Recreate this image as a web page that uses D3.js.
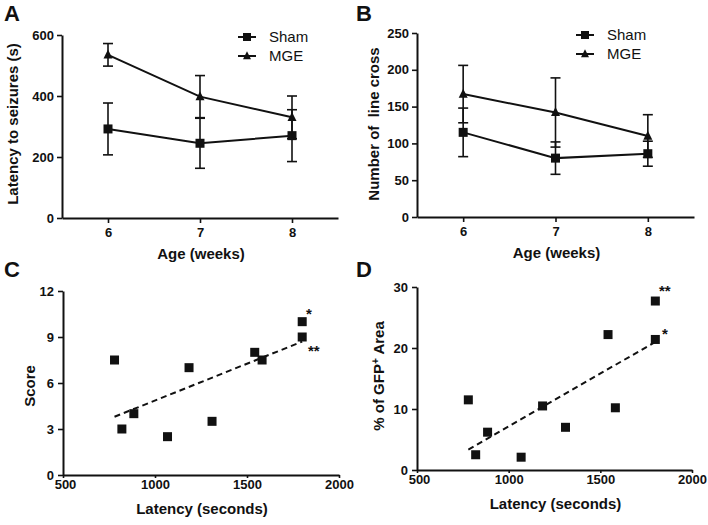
<!DOCTYPE html>
<html><head><meta charset="utf-8">
<script src="https://cdn.jsdelivr.net/npm/d3@7"></script>
<style>body{margin:0;background:#fff}svg{display:block}text{font-family:"Liberation Sans",Arial,sans-serif;fill:#111;white-space:pre}</style>
</head><body>
<svg id="c" width="708" height="525"></svg>
<script>
// ---- data ----
const ages = [6, 7, 8];
const shamLatency = [292, 245, 270];
const shamLatencyErr = [85, 82, 85];
const mgeLatency = [535, 398, 330];
const mgeLatencyErr = [37, 69, 70];
const shamCross = [115, 80, 86];
const shamCrossErr = [33, 22, 17];
const mgeCross = [167, 142, 110];
const mgeCrossErr = [39, 47, 29];
const latencySec = [780, 820, 885, 1068, 1185, 1310, 1542, 1582, 1800, 1800];
const scores = [7.5, 3, 4, 2.5, 7, 3.5, 8, 7.5, 10, 9];
const gfpArea = [11.5, 2.5, 6.2, 2.1, 10.5, 7.0, 22.2, 10.2, 27.7, 21.4];
const scoreFit = [[780, 3.8], [1800, 8.7]];
const gfpFit = [[780, 3.35], [1800, 21.0]];
const latencyTicks = [0, 200, 400, 600];
const crossTicks = [0, 50, 100, 150, 200, 250];
const scoreTicks = [0, 3, 6, 9, 12];
const gfpTicks = [0, 10, 20, 30];
const secTicks = [500, 1000, 1500, 2000];

const svg = d3.select("#c");

function axes(g, x, y, xt, yt, xTick, xPad, yPad, firstDx) {
  const ya = g.append("g").attr("transform", `translate(${x.range()[0]},0)`)
    .call(d3.axisLeft(y).tickValues(yt).tickSize(5).tickPadding(yPad).tickSizeOuter(0));
  const xa = g.append("g").attr("transform", `translate(0,${y.range()[0]})`)
    .call(d3.axisBottom(x).tickValues(xt).tickSize(xTick).tickPadding(xPad).tickSizeOuter(0).tickFormat(d3.format("d")));
  [ya, xa].forEach(a => {
    a.select(".domain").attr("stroke", "#111").attr("stroke-width", 2);
    a.selectAll(".tick line").attr("stroke", "#111").attr("stroke-width", 1.6);
    a.selectAll(".tick text").attr("font-size", 13).attr("font-weight", "bold").attr("fill", "#111")
      .style("font-family", '"Liberation Sans",Arial,sans-serif');
  });
  if (firstDx) xa.select(".tick text").attr("dx", firstDx);
}

function sq(g, cx, cy, s) {
  g.append("rect").attr("x", cx - s / 2).attr("y", cy - s / 2).attr("width", s).attr("height", s).attr("fill", "#111");
}
function tri(g, cx, cy, s) {
  g.append("path").attr("d", `M${cx},${cy - s * 0.6}L${cx + s / 2},${cy + s * 0.4}L${cx - s / 2},${cy + s * 0.4}Z`).attr("fill", "#111");
}

function linePanel(o) {
  const g = svg.append("g");
  const x = d3.scaleLinear().domain([5.5, 8.5]).range([o.l, o.r]);
  const y = d3.scaleLinear().domain([0, o.ymax]).range([o.b, o.t]);
  axes(g, x, y, ages, o.yt, 5, 5, 3, 0);
  const series = [[o.sham, o.shamE, "sq"], [o.mge, o.mgeE, "tri"]];
  series.forEach(([v, e, m]) => {
    ages.forEach((a, i) => {
      const cx = x(a);
      g.append("line").attr("x1", cx).attr("x2", cx).attr("y1", y(v[i] - e[i])).attr("y2", y(v[i] + e[i])).attr("stroke", "#111").attr("stroke-width", 1.6);
      [v[i] - e[i], v[i] + e[i]].forEach(val => g.append("line").attr("x1", cx - 5).attr("x2", cx + 5).attr("y1", y(val)).attr("y2", y(val)).attr("stroke", "#111").attr("stroke-width", 1.6));
    });
    g.append("path").attr("d", d3.line().x((d, i) => x(ages[i])).y(d => y(d))(v)).attr("fill", "none").attr("stroke", "#111").attr("stroke-width", 2);
    ages.forEach((a, i) => m === "sq" ? sq(g, x(a), y(v[i]), 9) : tri(g, x(a), y(v[i]), 9));
  });
  // legend
  const lg = [["Sham", "sq", o.ly], ["MGE", "tri", o.ly + 19]];
  lg.forEach(([t, m, ly]) => {
    g.append("line").attr("x1", o.lx - 9).attr("x2", o.lx + 9).attr("y1", ly).attr("y2", ly).attr("stroke", "#111").attr("stroke-width", 2);
    m === "sq" ? sq(g, o.lx, ly, 8) : tri(g, o.lx, ly, 8);
    g.append("text").attr("x", o.lx + 22).attr("y", ly + 5).attr("font-size", 15).text(t);
  });
  g.append("text").attr("x", (o.l + o.r) / 2 + 1).attr("y", o.b + 41).attr("text-anchor", "middle").attr("font-size", 15).attr("font-weight", "bold").text("Age (weeks)");
  g.append("text").attr("transform", `translate(${o.ytx},${o.yty}) rotate(-90)`).attr("text-anchor", "middle").attr("font-size", 15).attr("font-weight", "bold").text(o.ytitle);
  g.append("text").attr("x", o.px).attr("y", 21).attr("font-size", 22).attr("font-weight", "bold").text(o.letter);
}

function scatterPanel(o) {
  const g = svg.append("g");
  const x = d3.scaleLinear().domain([500, 2000]).range([o.l, o.r]);
  const y = d3.scaleLinear().domain([0, o.ymax]).range([o.b, o.t]);
  axes(g, x, y, secTicks, o.yt, 3, 2, 4, 2);
  g.append("path").attr("d", d3.line().x(d => x(d[0])).y(d => y(d[1]))(o.fit)).attr("fill", "none").attr("stroke", "#111").attr("stroke-width", 2).attr("stroke-dasharray", "6,4");
  latencySec.forEach((lx, i) => sq(g, x(lx), y(o.vals[i]), 9));
  o.stars.forEach(s => g.append("text").attr("x", s[0]).attr("y", s[1]).attr("font-size", 15).attr("font-weight", "bold").text(s[2]));
  g.append("text").attr("x", (o.l + o.r) / 2 + 1).attr("y", o.b + 39).attr("text-anchor", "middle").attr("font-size", 15).attr("font-weight", "bold").text("Latency (seconds)");
  const yt = g.append("text").attr("transform", `translate(${o.ytx},${o.yty}) rotate(-90)`).attr("text-anchor", "middle").attr("font-size", 15).attr("font-weight", "bold");
  o.ytitle(yt);
  g.append("text").attr("x", o.px).attr("y", 277).attr("font-size", 22).attr("font-weight", "bold").text(o.letter);
}

linePanel({ l: 62, r: 338, t: 35, b: 218, ymax: 600, yt: latencyTicks, sham: shamLatency, shamE: shamLatencyErr, mge: mgeLatency, mgeE: mgeLatencyErr,
  lx: 247, ly: 37, ytitle: "Latency to seizures (s)", ytx: 18, yty: 124, px: 4, letter: "A" });
linePanel({ l: 417, r: 694, t: 33, b: 217, ymax: 250, yt: crossTicks, sham: shamCross, shamE: shamCrossErr, mge: mgeCross, mgeE: mgeCrossErr,
  lx: 585, ly: 35, ytitle: "Number of  line cross", ytx: 379, yty: 124, px: 356, letter: "B" });
scatterPanel({ l: 63, r: 339, t: 291, b: 475, ymax: 12, yt: scoreTicks, vals: scores, fit: scoreFit,
  stars: [[306, 319, "*"], [308, 356, "**"]], ytx: 35, yty: 386, px: 4, letter: "C",
  ytitle: t => t.text("Score") });
scatterPanel({ l: 417, r: 692, t: 287, b: 470, ymax: 30, yt: gfpTicks, vals: gfpArea, fit: gfpFit,
  stars: [[659, 296, "**"], [662, 339, "*"]], ytx: 384, yty: 376, px: 356, letter: "D",
  ytitle: t => { t.append("tspan").text("% of GFP"); t.append("tspan").attr("baseline-shift", "super").attr("font-size", 10).text("+"); t.append("tspan").text(" Area"); } });
</script>
</body></html>
